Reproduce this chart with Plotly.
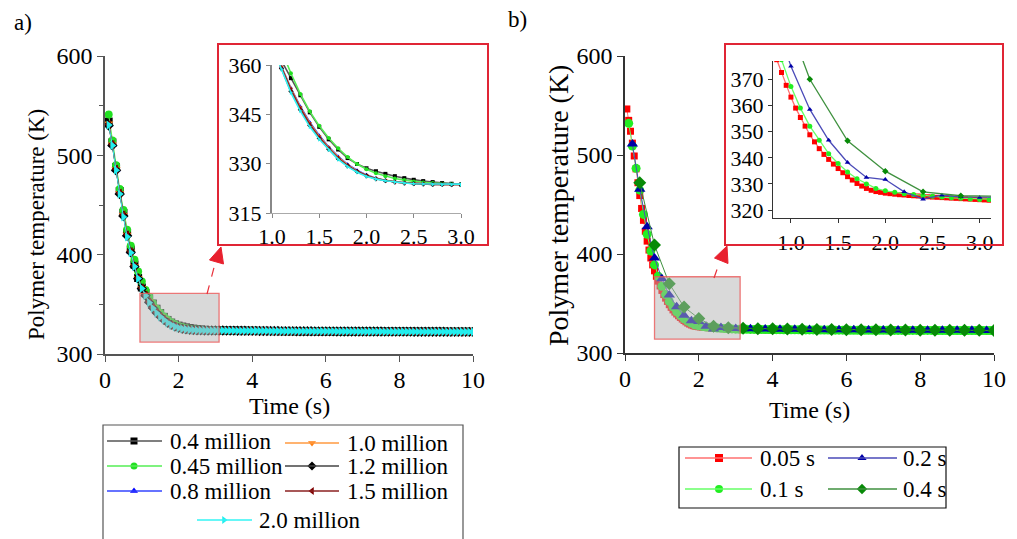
import plotly.graph_objects as go

W, H = 1017, 539
OFF = 8          # the page body margin shifts the figure by 8 px
FONT = "Liberation Serif"

# ------------------------------------------------------------------ data
# panel a) time grid (s)
T_A = [0.1, 0.2, 0.3, 0.4, 0.5, 0.6, 0.7, 0.8, 0.9, 1.0,
       1.1, 1.2, 1.3, 1.4, 1.5, 1.6, 1.7, 1.8, 1.9, 2.0,
       2.1, 2.2, 2.3, 2.4, 2.5, 2.6, 2.7, 2.8, 2.9, 3.0,
       3.1, 3.2, 3.3, 3.4, 3.5, 3.6, 3.7, 3.8, 3.9, 4.0,
       4.1, 4.2, 4.3, 4.4, 4.5, 4.6, 4.7, 4.8, 4.9, 5.0,
       5.1, 5.2, 5.3, 5.4, 5.5, 5.6, 5.7, 5.8, 5.9, 6.0,
       6.1, 6.2, 6.3, 6.4, 6.5, 6.6, 6.7, 6.8, 6.9, 7.0,
       7.1, 7.2, 7.3, 7.4, 7.5, 7.6, 7.7, 7.8, 7.9, 8.0,
       8.1, 8.2, 8.3, 8.4, 8.5, 8.6, 8.7, 8.8, 8.9, 9.0,
       9.1, 9.2, 9.3, 9.4, 9.5, 9.6, 9.7, 9.8, 9.9, 10.0]

# temperatures 0.1 .. 3.0 s
A_04 = [534, 513, 488, 464, 442, 422, 405, 390, 376.5, 367,
        361.3, 356.0, 350.8, 345.6, 341.2, 337.4, 334.3, 331.7, 329.9, 328.6,
        327.7, 326.9, 326.2, 325.6, 325.1, 324.7, 324.4, 324.1, 323.9, 323.7]
A_045 = [541, 515, 490, 466, 445, 425, 409, 395, 383, 373,
         364.5, 357.5, 351.2, 345.9, 341.5, 337.8, 334.7, 332.0, 329.9, 328.3,
         327.1, 326.2, 325.5, 325.0, 324.6, 324.3, 324.1, 323.9, 323.8, 323.7]
A_08 = [531, 511, 486, 462, 440, 420, 403.5, 389, 377, 367,
        359.5, 353.0, 347.4, 342.6, 338.6, 335.1, 332.2, 329.8, 328.0, 326.6,
        325.6, 324.9, 324.5, 324.2, 324.0, 323.9, 323.8, 323.7, 323.7, 323.6]
A_10 = [532, 511, 486, 462, 440, 420, 403, 388.5, 376.5, 366.5,
        359.4, 352.8, 347.1, 342.3, 338.3, 334.9, 332.0, 329.6, 327.8, 326.5,
        325.5, 324.9, 324.5, 324.2, 324.0, 323.9, 323.8, 323.7, 323.7, 323.6]
A_12 = [530, 510, 485, 461, 439, 419, 402.5, 388, 376, 366,
        358.9, 352.0, 346.4, 341.6, 337.7, 334.4, 331.5, 329.3, 327.6, 326.3,
        325.4, 324.8, 324.4, 324.1, 323.9, 323.8, 323.7, 323.7, 323.6, 323.6]
A_15 = [531, 511, 486, 462, 440, 420, 403, 388.5, 376.5, 366.5,
        359.2, 352.5, 346.8, 342.0, 338.0, 334.6, 331.7, 329.4, 327.6, 326.3,
        325.4, 324.8, 324.4, 324.1, 323.9, 323.8, 323.7, 323.7, 323.6, 323.6]
A_20 = [530.5, 510, 485, 461, 438, 418, 402, 388, 376, 366,
        358.7, 351.6, 346.0, 341.2, 337.4, 334.2, 331.3, 329.1, 327.4, 326.1,
        325.3, 324.8, 324.4, 324.1, 323.9, 323.8, 323.7, 323.6, 323.6, 323.6]
# converged plateau 3.1 .. 10.0 s (common to all meshes)
TAIL_A = [323.6, 323.6, 323.5, 323.5, 323.5, 323.4, 323.4, 323.4, 323.3, 323.3,
          323.3, 323.2, 323.2, 323.2, 323.1, 323.1, 323.1, 323.0, 323.0, 323.0,
          323.0, 322.9, 322.9, 322.9, 322.9, 322.9, 322.8, 322.8, 322.8, 322.8,
          322.8, 322.8, 322.7, 322.7, 322.7, 322.7, 322.7, 322.7, 322.6, 322.6,
          322.6, 322.6, 322.6, 322.6, 322.6, 322.5, 322.5, 322.5, 322.5, 322.5,
          322.5, 322.5, 322.5, 322.4, 322.4, 322.4, 322.4, 322.4, 322.4, 322.4,
          322.4, 322.4, 322.3, 322.3, 322.3, 322.3, 322.3, 322.3, 322.3, 322.3]

NAMES_A = ["0.4 million", "0.45 million", "0.8 million", "1.0 million",
           "1.2 million", "1.5 million", "2.0 million"]

# panel b) time grids (s)
T_B05 = [0.05, 0.1, 0.15, 0.2, 0.25, 0.3, 0.35, 0.4, 0.45, 0.5,
         0.55, 0.6, 0.65, 0.7, 0.75, 0.8, 0.85, 0.9, 0.95, 1.0,
         1.05, 1.1, 1.15, 1.2, 1.25, 1.3, 1.35, 1.4, 1.45, 1.5,
         1.55, 1.6, 1.65, 1.7, 1.75, 1.8, 1.85, 1.9, 1.95, 2.0,
         2.05, 2.1, 2.15, 2.2, 2.25, 2.3, 2.35, 2.4, 2.45, 2.5,
         2.55, 2.6, 2.65, 2.7, 2.75, 2.8, 2.85, 2.9, 2.95, 3.0,
         3.05, 3.1, 3.15, 3.2, 3.25, 3.3, 3.35, 3.4, 3.45, 3.5,
         3.55, 3.6, 3.65, 3.7, 3.75, 3.8, 3.85, 3.9, 3.95, 4.0,
         4.05, 4.1, 4.15, 4.2, 4.25, 4.3, 4.35, 4.4, 4.45, 4.5,
         4.55, 4.6, 4.65, 4.7, 4.75, 4.8, 4.85, 4.9, 4.95, 5.0,
         5.05, 5.1, 5.15, 5.2, 5.25, 5.3, 5.35, 5.4, 5.45, 5.5,
         5.55, 5.6, 5.65, 5.7, 5.75, 5.8, 5.85, 5.9, 5.95, 6.0,
         6.05, 6.1, 6.15, 6.2, 6.25, 6.3, 6.35, 6.4, 6.45, 6.5,
         6.55, 6.6, 6.65, 6.7, 6.75, 6.8, 6.85, 6.9, 6.95, 7.0,
         7.05, 7.1, 7.15, 7.2, 7.25, 7.3, 7.35, 7.4, 7.45, 7.5,
         7.55, 7.6, 7.65, 7.7, 7.75, 7.8, 7.85, 7.9, 7.95, 8.0,
         8.05, 8.1, 8.15, 8.2, 8.25, 8.3, 8.35, 8.4, 8.45, 8.5,
         8.55, 8.6, 8.65, 8.7, 8.75, 8.8, 8.85, 8.9, 8.95, 9.0,
         9.05, 9.1, 9.15, 9.2, 9.25, 9.3, 9.35, 9.4, 9.45, 9.5,
         9.55, 9.6, 9.65, 9.7, 9.75, 9.8, 9.85, 9.9, 9.95, 10.0]
T_B1 = T_A
T_B2 = [0.2, 0.4, 0.6, 0.8, 1.0, 1.2, 1.4, 1.6, 1.8, 2.0,
        2.2, 2.4, 2.6, 2.8, 3.0, 3.2, 3.4, 3.6, 3.8, 4.0,
        4.2, 4.4, 4.6, 4.8, 5.0, 5.2, 5.4, 5.6, 5.8, 6.0,
        6.2, 6.4, 6.6, 6.8, 7.0, 7.2, 7.4, 7.6, 7.8, 8.0,
        8.2, 8.4, 8.6, 8.8, 9.0, 9.2, 9.4, 9.6, 9.8, 10.0]
T_B4 = [0.4, 0.8, 1.2, 1.6, 2.0, 2.4, 2.8, 3.2, 3.6, 4.0, 4.4, 4.8, 5.2,
        5.6, 6.0, 6.4, 6.8, 7.2, 7.6, 8.0, 8.4, 8.8, 9.2, 9.6, 10.0]

B_005 = [546.5, 535, 524, 512, 499, 486, 472, 459, 446, 434,
         423, 413, 404, 396, 389, 383, 377.5, 372.6, 367.7, 363.2,
         359.0, 355.4, 352.1, 348.8, 346.1, 343.5, 341.3, 339.4, 337.6, 335.9,
         334.3, 332.8, 331.5, 330.2, 329.2, 328.3, 327.6, 327.1, 326.8, 326.5,
         326.3, 326.1, 325.9, 325.8, 325.6, 325.5, 325.4, 325.2, 325.1, 325.0,
         324.9, 324.8, 324.7, 324.6, 324.5, 324.4, 324.3, 324.2, 324.1, 324.0,
         323.9, 323.8,
         323.8, 323.8, 323.8, 323.8, 323.8, 323.7, 323.7, 323.7, 323.7, 323.7,
         323.7, 323.7, 323.7, 323.6, 323.6, 323.6, 323.6, 323.6, 323.6, 323.6,
         323.6, 323.6, 323.6, 323.5, 323.5, 323.5, 323.5, 323.5, 323.5, 323.5,
         323.5, 323.5, 323.5, 323.4, 323.4, 323.4, 323.4, 323.4, 323.4, 323.4,
         323.4, 323.4, 323.4, 323.4, 323.3, 323.3, 323.3, 323.3, 323.3, 323.3,
         323.3, 323.3, 323.3, 323.3, 323.3, 323.2, 323.2, 323.2, 323.2, 323.2,
         323.2, 323.2, 323.2, 323.2, 323.2, 323.2, 323.1, 323.1, 323.1, 323.1,
         323.1, 323.1, 323.1, 323.1, 323.1, 323.1, 323.1, 323.0, 323.0, 323.0,
         323.0, 323.0, 323.0, 323.0, 323.0, 323.0, 323.0, 323.0, 322.9, 322.9,
         322.9, 322.9, 322.9, 322.9, 322.9, 322.9, 322.9, 322.9, 322.9, 322.9,
         322.9, 322.9, 322.8, 322.8, 322.8, 322.8, 322.8, 322.8, 322.8, 322.8,
         322.8, 322.8, 322.8, 322.8, 322.8, 322.8, 322.7, 322.7, 322.7, 322.7,
         322.7, 322.7, 322.7, 322.7, 322.7, 322.7, 322.7, 322.7, 322.7, 322.7,
         322.7, 322.7, 322.6, 322.6, 322.6, 322.6, 322.6, 322.6]
B_01 = [532, 509, 486.5, 464.5, 440, 420, 403, 389, 377.5, 367.3,
        359.0, 352.1, 346.7, 341.6, 337.8, 334.6, 332.0, 330.0, 328.3, 327.4,
        326.8, 326.3, 326.0, 325.6, 325.3, 325.0, 324.7, 324.5, 324.3, 324.1,
        324.0, 323.9, 323.9, 323.8, 323.8, 323.8, 323.7, 323.7, 323.7, 323.6,
        323.6, 323.6, 323.5, 323.5, 323.5, 323.4, 323.4, 323.4, 323.3, 323.3,
        323.3, 323.3, 323.2, 323.2, 323.2, 323.2, 323.1, 323.1, 323.1, 323.1,
        323.0, 323.0, 323.0, 323.0, 323.0, 322.9, 322.9, 322.9, 322.9, 322.9,
        322.9, 322.8, 322.8, 322.8, 322.8, 322.8, 322.8, 322.8, 322.8, 322.8,
        322.8, 322.8, 322.8, 322.8, 322.7, 322.7, 322.7, 322.7, 322.7, 322.7,
        322.7, 322.7, 322.7, 322.7, 322.7, 322.7, 322.7, 322.7, 322.7, 322.7]
B_02 = [511, 465.5, 427.5, 396, 375, 358.5, 346.7, 338.2, 332.5, 331.7,
        327.0, 324.2, 325.7, 325.1, 324.8, 324.6, 324.5, 324.4, 324.3, 324.2,
        324.1, 324.0, 323.9, 323.8, 323.8, 323.7, 323.6, 323.6, 323.5, 323.5,
        323.4, 323.4, 323.3, 323.3, 323.3, 323.2, 323.2, 323.1, 323.1, 323.1,
        323.0, 323.0, 323.0, 322.9, 322.9, 322.9, 322.9, 322.8, 322.8, 322.8]
B_04 = [472, 409, 370, 346.5, 334.9, 327.0, 325.5, 324.9, 324.6, 324.4,
        324.2, 324.0, 323.8, 323.7, 323.6, 323.5, 323.4, 323.3, 323.2, 323.1,
        323.0, 323.0, 322.9, 322.9, 322.8]

NAMES_B = ["0.05 s", "0.1 s", "0.2 s", "0.4 s"]

A_VALUES = [A_04, A_045, A_08, A_10, A_12, A_15, A_20]
for v in A_VALUES:
    assert len(v) + len(TAIL_A) == len(T_A)
assert len(B_005) == len(T_B05) and len(B_01) == len(T_B1)
assert len(B_02) == len(T_B2) and len(B_04) == len(T_B4)

# ------------------------------------------------------------------ styles
STYLE_A = [  # symbol, marker colour, line colour
    ("square", "#000000", "#555555"),
    ("circle", "#22e022", "#55ee55"),
    ("triangle-up", "#0000ff", "#3344ff"),
    ("triangle-down", "#ff7f10", "#ff9a40"),
    ("diamond", "#000000", "#444444"),
    ("triangle-left", "#800000", "#8b2020"),
    ("triangle-right", "#22eeee", "#33f5f5"),
]
STYLE_B = [
    ("square", "#ff0000", "#ff7070", 7),
    ("circle", "#22ee22", "#66ff66", 9),
    ("triangle-up", "#0000a8", "#4a4ab8", 10),
    ("diamond", "#078a07", "#3f913f", 10),
]


def P(x, y):
    """screen pixel -> paper coordinates"""
    return (x - OFF) / W, 1 - (y - OFF) / H


def XD(a, b):
    return [(a - OFF) / W, (b - OFF) / W]


def YD(top, bottom):
    return [1 - (bottom - OFF) / H, 1 - (top - OFF) / H]


fig = go.Figure()

# panel a traces (main + inset)
for name, head, (sym, mc, lc) in zip(NAMES_A, A_VALUES, STYLE_A):
    yv = head + TAIL_A
    fig.add_trace(go.Scatter(x=T_A, y=yv, mode="lines+markers", name=name,
                             line=dict(color=lc, width=1),
                             marker=dict(symbol=sym, size=8, color=mc),
                             xaxis="x", yaxis="y", showlegend=False))
    fig.add_trace(go.Scatter(x=T_A, y=yv, mode="lines+markers", name=name,
                             line=dict(color=lc, width=1.6),
                             marker=dict(symbol=sym, size=4, color=mc),
                             xaxis="x2", yaxis="y2", showlegend=False))

# panel b traces (main + inset)
for name, tt, yv, (sym, mc, lc, ms) in zip(NAMES_B, [T_B05, T_B1, T_B2, T_B4],
                                          [B_005, B_01, B_02, B_04], STYLE_B):
    fig.add_trace(go.Scatter(x=tt, y=yv, mode="lines+markers", name=name,
                             line=dict(color=lc, width=1),
                             marker=dict(symbol=sym, size=ms, color=mc),
                             xaxis="x3", yaxis="y3", showlegend=False))
    fig.add_trace(go.Scatter(x=tt, y=yv, mode="lines+markers", name=name,
                             line=dict(color=lc, width=1.3),
                             marker=dict(symbol=sym, size=5, color=mc),
                             xaxis="x4", yaxis="y4", showlegend=False))

# ------------------------------------------------------------------ manual legends
LEG_A = [  # line x0, line x1, marker x, text x, row y (screen pixels)
    (107, 162, 134, 168, 441), (107, 162, 134, 168, 466), (107, 162, 134, 168, 491),
    (285, 339, 312, 345, 443), (285, 339, 312, 345, 466), (285, 339, 312, 345, 491),
    (197, 252, 224, 257, 520),
]
LEG_B = [
    (685, 752, 719, 758, 458), (685, 752, 719, 758, 489),
    (828, 897, 862, 901, 458), (828, 897, 862, 901, 489),
]

shapes = []
annotations = []

leg_items = [(n, s[0], s[1], s[2], p, 7, 23) for n, s, p in zip(NAMES_A, STYLE_A, LEG_A)]
leg_items += [(n, s[0], s[1], s[2], p, 8, 23) for n, s, p in zip(NAMES_B, STYLE_B, LEG_B)]
for name, sym, mc, lc, (x0, x1, xm, xt, yy), ms, fs in leg_items:
    a0 = P(x0, yy)
    a1 = P(x1, yy)
    shapes.append(dict(type="line", xref="paper", yref="paper", x0=a0[0], y0=a0[1],
                       x1=a1[0], y1=a1[1], line=dict(color=lc, width=1.3)))
    fig.add_trace(go.Scatter(x=[xm], y=[yy], mode="markers", xaxis="x5", yaxis="y5",
                             marker=dict(symbol=sym, size=ms, color=mc),
                             showlegend=False, hoverinfo="skip", cliponaxis=False))
    tx, ty = P(xt, yy)
    annotations.append(dict(text=name, x=tx, y=ty, xref="paper", yref="paper",
                            xanchor="left", yanchor="middle", showarrow=False,
                            font=dict(size=fs, color="black", family=FONT)))

# legend frames
for (x0, y0, x1, y1, col) in [(103, 425, 463, 560, "#555555"), (679, 447, 946, 508, "#111111")]:
    p0, p1 = P(x0, y0), P(x1, y1)
    shapes.append(dict(type="rect", xref="paper", yref="paper", x0=p0[0], y0=p1[1],
                       x1=p1[0], y1=p0[1], line=dict(color=col, width=1.2)))

# inset frames
for (x0, y0, x1, y1) in [(218, 44, 488, 245), (725, 44, 1003, 245)]:
    p0, p1 = P(x0, y0), P(x1, y1)
    shapes.append(dict(type="rect", xref="paper", yref="paper", x0=p0[0], y0=p1[1],
                       x1=p1[0], y1=p0[1], line=dict(color="#e02535", width=2)))

# zoom regions on the main plots
ZOOM_A = (0.95, 3.1, 312, 361)
ZOOM_B = (0.8, 3.12, 314, 377)
for (xr, yr, z) in [("x", "y", ZOOM_A), ("x3", "y3", ZOOM_B)]:
    shapes.append(dict(type="rect", xref=xr, yref=yr, x0=z[0], x1=z[1], y0=z[2], y1=z[3],
                       layer="above", fillcolor="rgba(180,180,180,0.5)",
                       line=dict(color="rgba(235,90,90,0.8)", width=1.3)))

# dashed arrows (screen-pixel geometry)
ARROWS = [((207, 294), (216, 260), [(221, 247), (223.5, 264), (209.5, 260)]),
          ((714, 278), (720, 261), [(727, 246), (728, 263.5), (714.5, 258)])]
for (s0, s1, tri) in ARROWS:
    a0, a1 = P(*s0), P(*s1)
    shapes.append(dict(type="line", xref="paper", yref="paper", x0=a0[0], y0=a0[1],
                       x1=a1[0], y1=a1[1], line=dict(color="#e8303a", width=1.2, dash="dash")))
    pts = [P(*q) for q in tri]
    path = "M {:.5f},{:.5f} L {:.5f},{:.5f} L {:.5f},{:.5f} Z".format(
        pts[0][0], pts[0][1], pts[1][0], pts[1][1], pts[2][0], pts[2][1])
    shapes.append(dict(type="path", xref="paper", yref="paper", path=path,
                       fillcolor="#e8202e", line=dict(color="#e8202e", width=1)))

# texts: panel labels and axis titles
TEXTS = [("a)", 12, 22, 0, 23, "left"), ("b)", 506, 19, 0, 23, "left"),
         ("Polymer temperature (K)", 36, 225, -90, 23, "center"),
         ("Polymer temperature (K)", 559, 206, -90, 28, "center"),
         ("Time (s)", 289, 406, 0, 24, "center"), ("Time (s)", 809, 410, 0, 24, "center")]
for (txt, x, y, ang, fs, xa) in TEXTS:
    px, py = P(x, y)
    annotations.append(dict(text=txt, x=px, y=py, xref="paper", yref="paper",
                            xanchor=xa, yanchor="middle", showarrow=False, textangle=ang,
                            font=dict(size=fs, color="black", family=FONT)))

# ------------------------------------------------------------------ axes
def main_axis(**kw):
    d = dict(showline=True, linewidth=1.5, ticks="outside", ticklen=6, tickwidth=1.3,
             showgrid=False, zeroline=False, mirror=False, automargin=False,
             tickfont=dict(size=24, color="black", family=FONT))
    d.update(kw)
    return d


def inset_axis(**kw):
    d = dict(showline=True, ticks="outside", ticklen=4, tickwidth=1.2,
             showgrid=False, zeroline=False, automargin=False,
             tickfont=dict(size=22, color="black", family=FONT))
    d.update(kw)
    return d


fig.update_layout(
    template="none",
    width=W, height=H, margin=dict(l=0, r=0, t=0, b=0, pad=0, autoexpand=False),
    paper_bgcolor="white", plot_bgcolor="rgba(0,0,0,0)", showlegend=False,
    font=dict(family=FONT, color="black"),
    xaxis=main_axis(domain=XD(105, 473), range=[0, 10], tickvals=[0, 2, 4, 6, 8, 10],
                    anchor="y", linecolor="#555", tickcolor="#555", ticklabelstandoff=-3),
    yaxis=main_axis(domain=YD(56, 354), range=[300, 600],
                    tickvals=[300, 400, 500, 600], anchor="x", linecolor="#555", tickcolor="#555",
                    minor=dict(tickvals=[350, 450, 550], ticks="outside", ticklen=4,
                               tickcolor="#555")),
    xaxis2=inset_axis(domain=XD(272, 461), range=[1.0, 3.0],
                      tickvals=[1.0, 1.5, 2.0, 2.5, 3.0], tickformat=".1f", anchor="y2",
                      linecolor="#aaaaaa", linewidth=1, tickcolor="#888"),
    yaxis2=inset_axis(domain=YD(65, 213), range=[315, 360],
                      tickvals=[315, 330, 345, 360], anchor="x2",
                      linecolor="#888888", linewidth=2, tickcolor="#888"),
    xaxis3=main_axis(domain=XD(625, 994), range=[0, 10], tickvals=[0, 2, 4, 6, 8, 10],
                     anchor="y3", linecolor="#333", tickcolor="#333", ticklabelstandoff=-3),
    yaxis3=main_axis(domain=YD(56, 353), range=[300, 600],
                     tickvals=[300, 400, 500, 600], anchor="x3", linecolor="#333", tickcolor="#333"),
    xaxis4=inset_axis(domain=XD(773, 991), range=[0.81, 3.12],
                      tickvals=[1.0, 1.5, 2.0, 2.5, 3.0], tickformat=".1f", anchor="y4",
                      linecolor="#333", linewidth=1.3, tickcolor="#333"),
    yaxis4=inset_axis(domain=YD(61, 218), range=[317, 377],
                      tickvals=[320, 330, 340, 350, 360, 370], anchor="x4",
                      linecolor="#333", linewidth=1.3, tickcolor="#333"),
    xaxis5=dict(domain=[0, 1], range=[OFF, W + OFF], visible=False, anchor="y5",
                fixedrange=True, automargin=False),
    yaxis5=dict(domain=[0, 1], range=[H + OFF, OFF], visible=False, anchor="x5",
                fixedrange=True, automargin=False),
    shapes=shapes,
    annotations=annotations,
)

fig.write_html("out.html")
